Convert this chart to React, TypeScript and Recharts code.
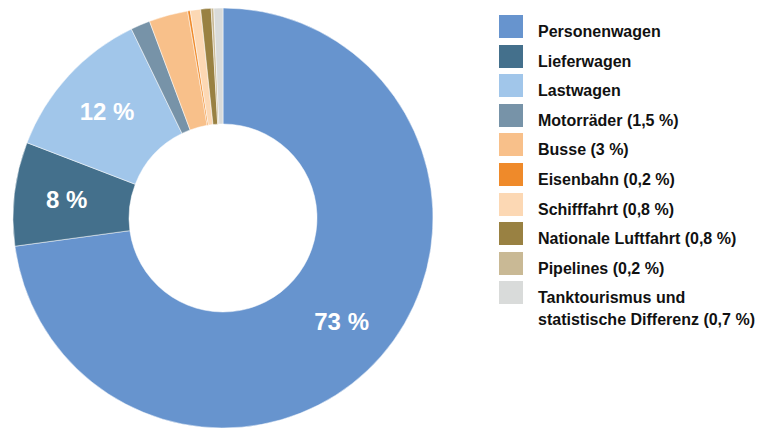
import { PieChart, Pie, Cell, Legend } from 'recharts';

const categories = [
  'Personenwagen',
  'Lieferwagen',
  'Lastwagen',
  'Motorräder (1,5 %)',
  'Busse (3 %)',
  'Eisenbahn (0,2 %)',
  'Schifffahrt (0,8 %)',
  'Nationale Luftfahrt (0,8 %)',
  'Pipelines (0,2 %)',
  'Tanktourismus und\nstatistische Differenz (0,7 %)',
];
const shares = [73, 8, 12, 1.5, 3, 0.2, 0.8, 0.8, 0.2, 0.7];
const sliceLabels = ['73 %', '8 %', '12 %', '', '', '', '', '', '', ''];
const colors = [
  '#6794ce', '#44708c', '#a1c6ea', '#7793a8', '#f8c08a',
  '#ef8a2a', '#fcd8b4', '#998142', '#c9b995', '#d9dbda',
];

const chartData = categories.map((name, i) => ({ name, value: shares[i], label: sliceLabels[i] }));

const FONT = '"Liberation Sans", Arial, Helvetica, sans-serif';
const RAD = Math.PI / 180;

const renderLabel = (props: any) => {
  const { cx, cy, midAngle, outerRadius, index } = props;
  const text = sliceLabels[index];
  if (!text) return null;
  const r = outerRadius * 0.75;
  const x = cx + r * Math.cos(-midAngle * RAD);
  const y = cy + r * Math.sin(-midAngle * RAD);
  return (
    <text x={x} y={y} fill="#fff" textAnchor="middle" dominantBaseline="central"
      fontFamily={FONT} fontWeight="bold" fontSize={24}>
      {text}
    </text>
  );
};

const renderLegend = () => (
  <div style={{ fontFamily: FONT }}>
    {categories.map((name, i) => (
      <div key={name} style={{ position: 'relative', height: 29.6 }}>
        <div style={{ position: 'absolute', left: 0, top: 0, width: 24, height: 23, background: colors[i] }} />
        <div style={{ position: 'absolute', left: 39, top: 6, fontSize: 16, fontWeight: 'bold', color: '#111', lineHeight: '22px', whiteSpace: 'pre' }}>
          {name}
        </div>
      </div>
    ))}
  </div>
);

export default function App() {
  return (
    <div style={{ position: 'fixed', left: 0, top: 0, width: 759, height: 428, background: '#fff' }}>
      <PieChart width={759} height={428} margin={{ top: 0, right: 0, bottom: 0, left: 0 }}>
        <Pie
          data={chartData}
          dataKey="value"
          nameKey="name"
          cx={223}
          cy={218}
          innerRadius={94}
          outerRadius={210}
          startAngle={90}
          endAngle={-270}
          stroke="#fff"
          strokeWidth={0.5}
          label={renderLabel}
          labelLine={false}
          isAnimationActive={false}
        >
          {chartData.map((d, i) => (
            <Cell key={d.name} fill={colors[i]} />
          ))}
        </Pie>
        <Legend
          content={renderLegend}
          wrapperStyle={{ left: 499, top: 15, width: 260 }}
        />
      </PieChart>
    </div>
  );
}
